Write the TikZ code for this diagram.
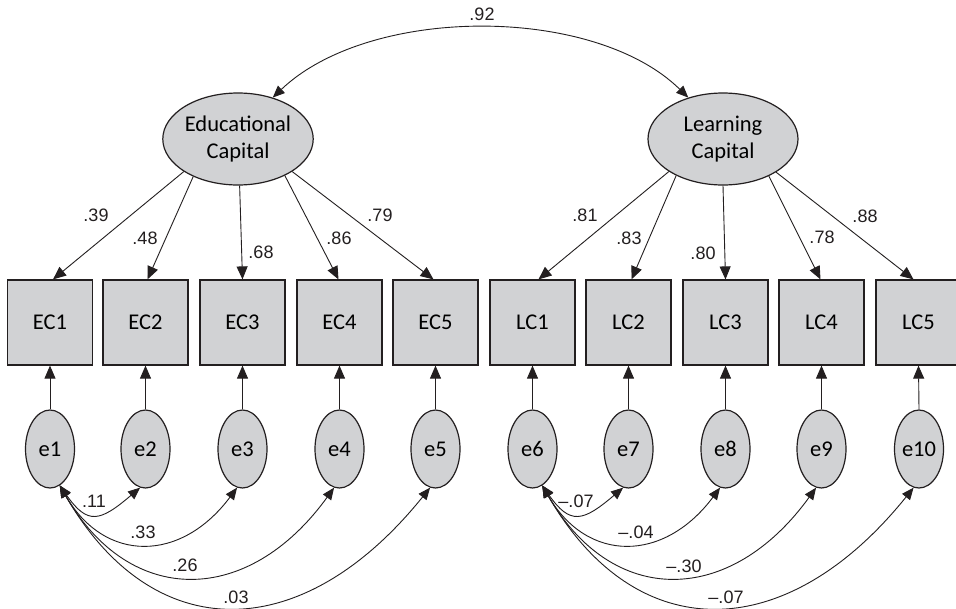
\documentclass[tikz,border=0pt]{standalone}
\usepackage{fontspec}
\setmainfont{Carlito}
\newfontfamily\numfont{Liberation Sans}
\usetikzlibrary{arrows.meta,shapes.geometric}
\definecolor{shade}{HTML}{D1D2D4}
\definecolor{ink}{HTML}{231F20}
\begin{document}
\begin{tikzpicture}[x=1pt,y=-1pt,
  latent/.style={ellipse, draw=ink, line width=1.2pt, fill=shade, minimum width=150pt, minimum height=92pt, inner sep=0pt, align=center, font=\fontsize{22.5}{27}\selectfont},
  obs/.style={rectangle, draw=ink, line width=1.2pt, fill=shade, minimum size=85pt, inner sep=0pt, font=\fontsize{22.5}{27}\selectfont},
  err/.style={ellipse, draw=ink, line width=1.2pt, fill=shade, minimum width=49pt, minimum height=78pt, inner sep=0pt, font=\fontsize{22.5}{27}\selectfont},
  link/.style={draw=ink, line width=0.9pt, -{Triangle[length=13pt,width=11pt]}},
  cov/.style={draw=ink, line width=0.9pt, {Triangle[length=12pt,width=10pt]}-{Triangle[length=12pt,width=10pt]}},
  num/.style={font=\numfont\fontsize{18}{21}\selectfont, inner sep=0pt, text=ink}
]
\clip (0,0) rectangle (956,608);
\fill[white] (0,0) rectangle (956,608);

% latent variables
\node[latent] (EC) at (238,139) {Educational\\Capital};
\node[latent] (LC) at (723,139) {Learning\\Capital};

% observed variables
\node[obs] (EC1) at (50,322.5) {EC1};
\node[obs] (EC2) at (145.5,322.5) {EC2};
\node[obs] (EC3) at (242.5,322.5) {EC3};
\node[obs] (EC4) at (339.5,322.5) {EC4};
\node[obs] (EC5) at (435.5,322.5) {EC5};
\node[obs] (LC1) at (532.5,322.5) {LC1};
\node[obs] (LC2) at (628.5,322.5) {LC2};
\node[obs] (LC3) at (725.5,322.5) {LC3};
\node[obs] (LC4) at (821.5,322.5) {LC4};
\node[obs] (LC5) at (918.5,322.5) {LC5};

% error terms
\node[err] (e1) at (50,449) {e1};
\node[err] (e2) at (145.5,449) {e2};
\node[err] (e3) at (242.5,449) {e3};
\node[err] (e4) at (339.5,449) {e4};
\node[err] (e5) at (435.5,449) {e5};
\node[err] (e6) at (532.5,449) {e6};
\node[err] (e7) at (628.5,449) {e7};
\node[err] (e8) at (725.5,449) {e8};
\node[err] (e9) at (821.5,449) {e9};
\node[err] (e10) at (919,449) {e10};

% loadings
\draw[link] (EC.211) -- ([xshift=3pt]EC1.north);
\draw[link] (EC.220) -- ([xshift=2pt]EC2.north);
\draw[link] (EC.272) -- (EC3.north);
\draw[link] (EC.322) -- ([xshift=-1pt]EC4.north);
\draw[link] (EC.329) -- ([xshift=-2pt]EC5.north);
\draw[link] (LC.211) -- ([xshift=6pt]LC1.north);
\draw[link] (LC.218) -- ([xshift=3pt]LC2.north);
\draw[link] (LC.270) -- (LC3.north);
\draw[link] (LC.321) -- ([xshift=-1pt]LC4.north);
\draw[link] (LC.328) -- ([xshift=-5pt]LC5.north);

\node[num] (l1) at (96,215) {.39};
\node[num] (l2) at (145,238) {.48};
\node[num] (l3) at (261,252) {.68};
\node[num] (l4) at (339,238) {.86};
\node[num] (l5) at (380,215) {.79};
\node[num] (l6) at (585,215) {.81};
\node[num] (l7) at (629,238) {.83};
\node[num] (l8) at (703,253) {.80};
\node[num] (l9) at (822,237) {.78};
\node[num] (l10) at (865,216) {.88};

% error paths
\foreach \i/\j in {e1/EC1,e2/EC2,e3/EC3,e4/EC4,e5/EC5,e6/LC1,e7/LC2,e8/LC3,e9/LC4,e10/LC5}
  \draw[link] (\i.north) -- (\j.south);

% latent covariance
\draw[cov] (EC.50) .. controls (370,5) and (594,5) .. (LC.130);
\node[num] (c0) at (482,14) {.92};

% error covariances (left)
\draw[cov] (e1.285) .. controls +(28,40) and +(-40,34) .. (e2.262);
\draw[cov] (e1.285) .. controls +(45,78) and +(-56,75) .. (e3.262);
\draw[cov] (e1.285) .. controls +(70,122) and +(-86,119) .. (e4.262);
\draw[cov] (e1.285) .. controls +(93,162) and +(-128,159) .. (e5.262);
\node[num] (c1) at (94,501) {.11};
\node[num] (c2) at (143,532) {.33};
\node[num] (c3) at (185,565) {.26};
\node[num] (c4) at (236,597) {.03};

% error covariances (right)
\draw[cov] (e6.285) .. controls +(28,40) and +(-40,34) .. (e7.262);
\draw[cov] (e6.285) .. controls +(45,78) and +(-56,75) .. (e8.262);
\draw[cov] (e6.285) .. controls +(70,122) and +(-86,119) .. (e9.262);
\draw[cov] (e6.285) .. controls +(93,162) and +(-128,159) .. (e10.262);
\node[num] (c5) at (576,501) {–.07};
\node[num] (c6) at (636,532) {–.04};
\node[num] (c7) at (684,566) {–.30};
\node[num] (c8) at (726,597) {–.07};
\end{tikzpicture}
\end{document}
